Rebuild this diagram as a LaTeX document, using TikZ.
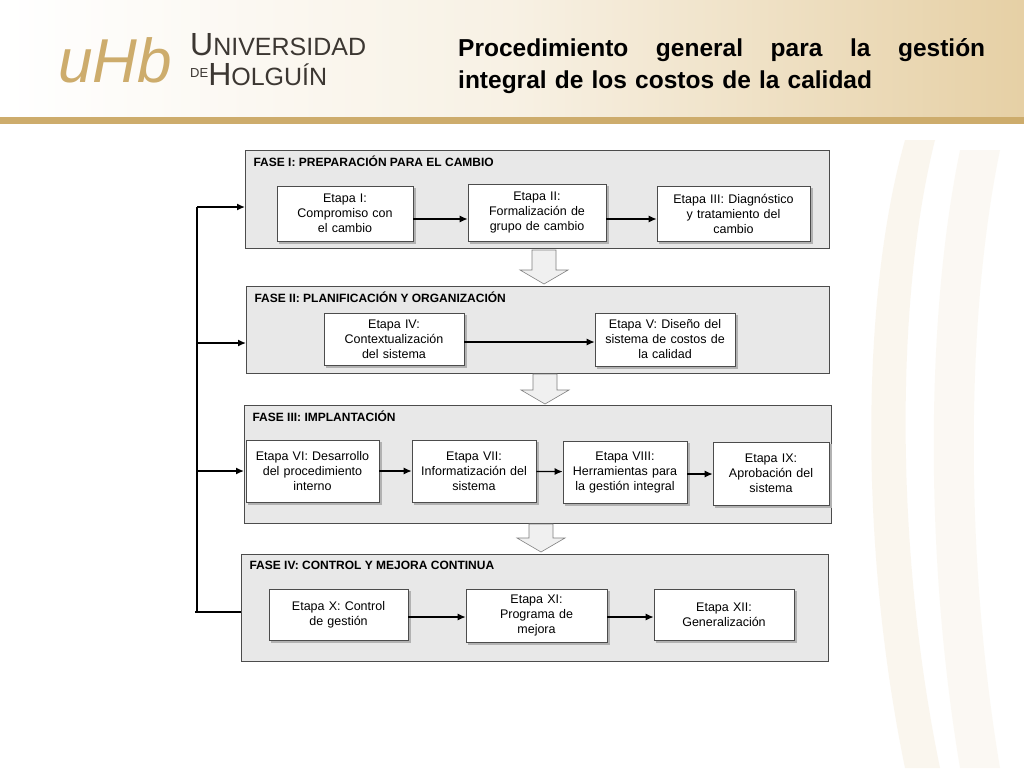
\documentclass[tikz,border=0pt]{standalone}
\usepackage{fontspec}
\setmainfont{Liberation Sans}
\usetikzlibrary{arrows.meta}
\definecolor{gold}{RGB}{205,172,108}
\definecolor{goldl}{RGB}{230,208,165}
\definecolor{phasefill}{RGB}{232,232,232}
\definecolor{logog}{RGB}{60,55,50}
\begin{document}
\begin{tikzpicture}[x=1pt,y=-1pt,
 phase/.style={draw=black!70,fill=phasefill,line width=0.6pt},
 etapa/.style={draw=black!70,fill=white,line width=0.6pt,align=center,inner sep=1pt,
   font=\fontsize{12.5}{15}\selectfont},
 ptitle/.style={anchor=west,font=\bfseries\fontsize{12}{13}\selectfont},
 arr/.style={-{Latex[length=8pt,width=7pt]},line width=1.3pt},
 fb/.style={line width=1.4pt},
 chev/.style={draw=black!50,fill=black!6,line width=0.6pt}]
\useasboundingbox (0,0) rectangle (1024,768);
\fill[white] (0,0) rectangle (1024,768);
% header
\shade[left color=white,right color=goldl,middle color=white!70!goldl] (0,0) rectangle (1024,117);
\fill[gold] (0,117) rectangle (1024,124);
% decorative stripes at right
\fill[goldl,opacity=0.18] (905,140) .. controls (860,300) and (860,550) .. (905,768) -- (940,768) .. controls (895,550) and (895,300) .. (935,140) -- cycle;
\fill[goldl,opacity=0.13] (960,150) .. controls (925,320) and (925,560) .. (960,768) -- (1000,768) .. controls (965,560) and (965,320) .. (1000,150) -- cycle;
% logo
\node[anchor=west,text=gold,font=\fontsize{62}{62}\selectfont\itshape,inner sep=0pt] (uho) at (58,60) {uHb};
\node[anchor=west,text=logog,align=left,inner sep=0pt,font=\fontsize{32}{30}\selectfont] (univ) at (190,60) {U\fontsize{25}{30}\selectfont NIVERSIDAD\\\raisebox{8pt}{\fontsize{13}{13}\selectfont DE}\fontsize{32}{30}\selectfont H\fontsize{25}{30}\selectfont OLGUÍN};
% title
\node[anchor=north west,text width=527pt,align=left,inner sep=0pt,font=\bfseries\fontsize{24.5}{32}\selectfont] (title) at (458,38) {Procedimiento\hfill general\hfill para\hfill la\hfill gestión\\integral de los costos de la calidad};
% phases
\draw[phase] (245,150) rectangle (829,248);
\node[ptitle] (p1) at (250,161) {FASE I: PREPARACIÓN PARA EL CAMBIO};
\draw[phase] (246,286) rectangle (829,373);
\node[ptitle] (p2) at (251,297) {FASE II: PLANIFICACIÓN Y ORGANIZACIÓN};
\draw[phase] (244,405) rectangle (831,523);
\node[ptitle] (p3) at (249,416) {FASE III: IMPLANTACIÓN};
\draw[phase] (241,554) rectangle (828,661);
\node[ptitle] (p4) at (246,565) {FASE IV: CONTROL Y MEJORA CONTINUA};
% chevrons
\foreach \cx/\ya/\yb/\yc in {544/250/270/284, 545/374/390/404, 541/524/538/552}{
 \draw[chev] (\cx-12,\ya) -- (\cx+12,\ya) -- (\cx+12,\yb) -- (\cx+24,\yb) -- (\cx,\yc) -- (\cx-24,\yb) -- (\cx-12,\yb) -- cycle;}
% etapas
\newcommand{\etp}[6]{\draw[draw=black!30,fill=black!30] (#2+2,#3+2) rectangle (#4+2,#5+2);
 \node[etapa,minimum width=#4-#2,minimum height=#5-#3,text width=#4-#2-2] (#1) at ({(#2+#4)/2},{(#3+#5)/2}) {#6};}
\etp{e1}{277}{186}{413}{241}{Etapa I:\\Compromiso con\\el cambio}
\etp{e2}{468}{184}{606}{241}{Etapa II:\\Formalización de\\grupo de cambio}
\etp{e3}{657}{186}{810}{241}{Etapa III: Diagnóstico\\y tratamiento del\\cambio}
\etp{e4}{324}{313}{464}{365}{Etapa IV:\\Contextualización\\del sistema}
\etp{e5}{595}{313}{735}{366}{Etapa V: Diseño del\\sistema de costos de\\la calidad}
\etp{e6}{246}{440}{379}{502}{Etapa VI: Desarrollo\\del procedimiento\\interno}
\etp{e7}{412}{440}{536}{502}{Etapa VII:\\Informatización del\\sistema}
\etp{e8}{563}{441}{687}{503}{Etapa VIII:\\Herramientas para\\la gestión integral}
\etp{e9}{713}{442}{829}{505}{Etapa IX:\\Aprobación del\\sistema}
\etp{e10}{269}{589}{408}{640}{Etapa X: Control\\de gestión}
\etp{e11}{466}{589}{607}{642}{Etapa XI:\\Programa de\\mejora}
\etp{e12}{654}{589}{794}{640}{Etapa XII:\\Generalización}
% arrows
\draw[arr] (e1.east|-0,219) -- (e2.west|-0,219);
\draw[arr] (e2.east|-0,219) -- (e3.west|-0,219);
\draw[arr] (e4.east|-0,342) -- (e5.west|-0,342);
\draw[arr] (e6) -- (e7);
\draw[arr] (e7) -- (e8);
\draw[arr] (e8.east|-0,474) -- (e9.west|-0,474);
\draw[arr] (e10.east|-0,617) -- (e11.west|-0,617);
\draw[arr] (e11.east|-0,617) -- (e12.west|-0,617);
% feedback
\coordinate (fb0) at (241,612);
\coordinate (fbc) at (197,612);
\coordinate (fbt) at (197,207);
\draw[fb] (fb0) -- (195,612) (fbc) -- (fbt);
\draw[fb,-{Latex[length=8pt,width=7pt]}] (fbt) -- (245,207);
\draw[fb,-{Latex[length=8pt,width=7pt]}] (197,343) -- (246,343);
\draw[fb,-{Latex[length=8pt,width=7pt]}] (197,471) -- (244,471);
\end{tikzpicture}
\end{document}
